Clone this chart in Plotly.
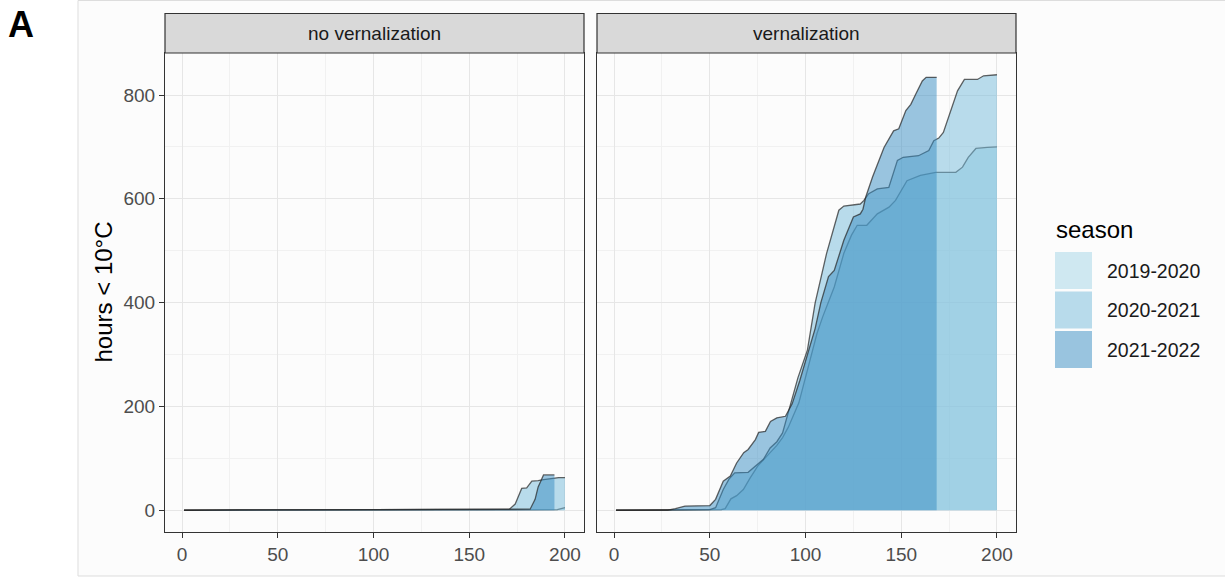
import plotly.graph_objects as go

W, H = 1225, 581

seasons = ["2019-2020", "2020-2021", "2021-2022"]
fill_colors = ["rgba(161,211,229,0.5)", "rgba(115,185,217,0.5)", "rgba(53,139,193,0.5)"]
line_color = "rgba(40,40,40,0.72)"
panels = ["no vernalization", "vernalization"]

# ---- no vernalization ----
nv_2019_day = [1, 28, 120, 196, 198, 200]
nv_2019_val = [0, 0, 1, 1, 3, 5]

nv_2020_day = [1, 28, 100, 171, 174, 175.7, 177.4, 180, 182.7, 186, 188.8, 196.7, 200]
nv_2020_val = [0, 0, 1, 2, 12, 27, 42, 43, 56, 57, 59, 63, 63]

nv_2021_day = [1, 30, 100, 181.8, 184.4, 186, 187, 188.8, 194.5]
nv_2021_val = [0, 1, 1, 2, 21, 45, 53, 68, 68]

# ---- vernalization ----
v_2019_day = [1, 28, 50, 56, 58, 61, 64, 67.5, 71, 75, 78, 81.5, 85, 88, 91, 96.5, 101.7, 106, 109,
              115, 120, 124, 127, 132, 137.5, 143.6, 147, 150, 153, 160, 168, 178.5, 182, 185, 189, 195, 200]
v_2019_val = [0, 0, 1, 1, 3, 22, 28, 40, 62, 85, 97, 110, 125, 140, 160, 207, 283, 341, 373,
              430, 495, 530, 549, 549, 571, 584, 597, 615, 635, 645, 651, 651, 661, 680, 697, 699, 700]

v_2020_day = [1, 28, 50, 53, 57, 60, 63, 70, 74, 78, 81.5, 85, 88, 91, 96, 101, 105, 111, 117.4, 120,
              128.6, 130.5, 133, 137.5, 143.5, 148, 151, 159, 164.4, 167, 169.6, 172, 176, 179.4, 183,
              189.8, 193, 200]
v_2020_val = [0, 0, 1, 5, 40, 60, 72, 73, 85, 98, 120, 132, 149, 190, 255, 309, 399, 495, 578, 586,
              590, 597, 610, 619, 622, 674, 680, 683, 693, 712, 717, 728, 770, 808, 830,
              830, 837, 839]

v_2021_day = [1, 28, 32, 37, 50, 53, 57, 60.7, 64, 67.7, 70, 73.8, 75.5, 79, 81.7, 85, 89.5, 93, 97,
              101, 105, 108, 112, 115, 120, 125, 128.6, 130, 131.4, 135, 141, 146, 148.7, 152.4, 155,
              157.6, 161, 163, 168.5]
v_2021_val = [0, 0, 3, 8, 9, 21, 56, 66, 91, 111, 117, 136, 150, 152, 171, 178, 181, 205, 250,
              300, 350, 400, 450, 462, 520, 565, 571, 580, 603, 642, 699, 731, 735, 770, 782,
              802, 827, 834, 834]

data = {
    "no vernalization": [(nv_2019_day, nv_2019_val), (nv_2020_day, nv_2020_val), (nv_2021_day, nv_2021_val)],
    "vernalization": [(v_2019_day, v_2019_val), (v_2020_day, v_2020_val), (v_2021_day, v_2021_val)],
}

x_ticks = [0, 50, 100, 150, 200]
y_ticks = [0, 200, 400, 600, 800]

def fx(px):
    return px / W

def fy(py):
    return 1 - py / H

fig = go.Figure()

for pi, panel in enumerate(panels):
    xa = "x" if pi == 0 else "x2"
    ya = "y" if pi == 0 else "y2"
    for si, (d, v) in enumerate(data[panel]):
        fig.add_trace(go.Scatter(
            x=d, y=v, mode="lines", fill="tozeroy",
            fillcolor=fill_colors[si],
            line=dict(color=line_color, width=1.3),
            name=seasons[si], showlegend=False, hoverinfo="x+y+name",
            xaxis=xa, yaxis=ya,
        ))

font_family = "Liberation Sans, Arial, sans-serif"
panel_px = [(165, 584), (597, 1016)]
top_px, bot_px = 53, 532

common_x = dict(
    range=[-8.95, 209.95], tickvals=x_ticks, ticktext=[str(t) for t in x_ticks],
    showgrid=True, gridcolor="#e6e6e6", gridwidth=1.1,
    minor=dict(dtick=25, tick0=0, showgrid=True, gridcolor="#f1f1f1", gridwidth=0.7, ticks=""),
    zeroline=False, showline=True, linecolor="#333333", linewidth=1.2, mirror=True,
    ticks="outside", ticklen=5, tickwidth=1.2, tickcolor="#333333",
    tickfont=dict(size=19, color="#4d4d4d", family=font_family),
    fixedrange=True,
)
common_y = dict(
    range=[-41.95, 880.95], tickvals=y_ticks, ticktext=[str(t) for t in y_ticks],
    showgrid=True, gridcolor="#e6e6e6", gridwidth=1.1,
    minor=dict(dtick=100, tick0=0, showgrid=True, gridcolor="#f1f1f1", gridwidth=0.7, ticks=""),
    zeroline=False, showline=True, linecolor="#333333", linewidth=1.2, mirror=True,
    ticks="outside", ticklen=5, tickwidth=1.2, tickcolor="#333333",
    tickfont=dict(size=19, color="#4d4d4d", family=font_family),
    domain=[fy(bot_px), fy(top_px)], fixedrange=True,
)

fig.update_layout(
    width=W, height=H,
    margin=dict(l=0, r=0, t=0, b=0),
    paper_bgcolor="white", plot_bgcolor="#fdfdfd",
    font=dict(family=font_family),
    showlegend=False,
    xaxis=dict(common_x, domain=[fx(panel_px[0][0]), fx(panel_px[0][1])], anchor="y"),
    xaxis2=dict(common_x, domain=[fx(panel_px[1][0]), fx(panel_px[1][1])], anchor="y2"),
    yaxis=dict(common_y, anchor="x"),
    yaxis2=dict(common_y, anchor="x2", showticklabels=False, ticks=""),
)

shapes = []
annotations = []
# outer plot background frame
shapes.append(dict(type="rect", xref="paper", yref="paper", x0=fx(78), x1=fx(1240), y0=fy(576), y1=fy(0.5),
                   fillcolor="#fcfcfc", line=dict(color="#dddddd", width=1), layer="below"))

# facet strips
for pi, panel in enumerate(panels):
    x0, x1 = panel_px[pi]
    shapes.append(dict(type="rect", xref="paper", yref="paper", x0=fx(x0), x1=fx(x1), y0=fy(top_px), y1=fy(13.5),
                       fillcolor="#d9d9d9", line=dict(color="#333333", width=1.2)))
    annotations.append(dict(text=panel, xref="paper", yref="paper", x=fx((x0 + x1) / 2), y=fy(33),
                            showarrow=False, xanchor="center", yanchor="middle",
                            font=dict(size=19, color="#1a1a1a", family=font_family)))

# y axis title
annotations.append(dict(text="hours < 10°C", xref="paper", yref="paper", x=fx(103), y=fy(292.5),
                        textangle=-90, showarrow=False, xanchor="center", yanchor="middle",
                        font=dict(size=24, color="black", family=font_family)))

# panel tag
annotations.append(dict(text="<b>A</b>", xref="paper", yref="paper", x=fx(21), y=fy(24),
                        showarrow=False, xanchor="center", yanchor="middle",
                        font=dict(size=36, color="black", family=font_family)))

# legend (manual keys)
annotations.append(dict(text="season", xref="paper", yref="paper", x=fx(1054), y=fy(229),
                        showarrow=False, xanchor="left", yanchor="middle",
                        font=dict(size=24, color="black", family=font_family)))
key_tops = [252, 291.5, 331]
for si, s in enumerate(seasons):
    t = key_tops[si]
    shapes.append(dict(type="rect", xref="paper", yref="paper", x0=fx(1055), x1=fx(1092),
                       y0=fy(t + 37), y1=fy(t), fillcolor=fill_colors[si], line=dict(width=0)))
    annotations.append(dict(text=s, xref="paper", yref="paper", x=fx(1105), y=fy(t + 18.5),
                            showarrow=False, xanchor="left", yanchor="middle",
                            font=dict(size=19.5, color="#1a1a1a", family=font_family)))

fig.update_layout(shapes=shapes, annotations=annotations)
fig.write_html("out.html", config={"displayModeBar": False},
               post_script="document.body.style.margin='0';document.body.style.overflow='hidden';")
